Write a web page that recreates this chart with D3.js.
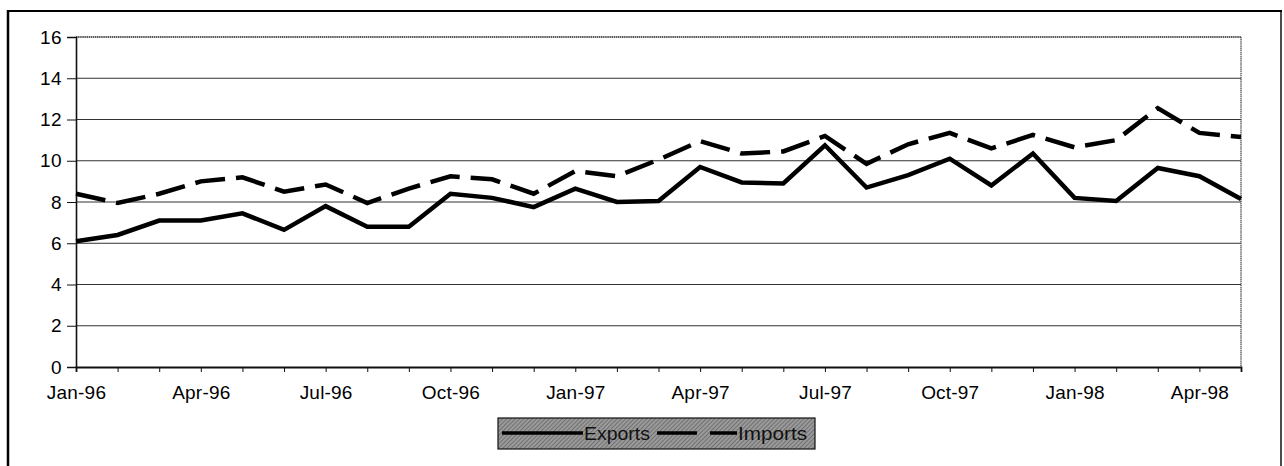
<!DOCTYPE html>
<html>
<head>
<meta charset="utf-8">
<script src="https://cdn.jsdelivr.net/npm/d3@7/dist/d3.min.js"></script>
<style>
  html, body { margin: 0; padding: 0; background: #fff; }
  svg { display: block; }
  text { font-family: "Liberation Sans", Arial, sans-serif; }
</style>
</head>
<body>
<svg id="chart" width="1284" height="466"></svg>
<script>
const months = ["Jan-96","Feb-96","Mar-96","Apr-96","May-96","Jun-96","Jul-96","Aug-96","Sep-96","Oct-96","Nov-96","Dec-96",
                "Jan-97","Feb-97","Mar-97","Apr-97","May-97","Jun-97","Jul-97","Aug-97","Sep-97","Oct-97","Nov-97","Dec-97",
                "Jan-98","Feb-98","Mar-98","Apr-98","May-98"];
const exportsData = [6.1,6.4,7.1,7.1,7.45,6.65,7.8,6.8,6.8,8.4,8.2,7.75,8.65,8.0,8.05,9.7,8.95,8.9,10.75,8.7,9.3,10.1,8.8,10.35,8.2,8.05,9.65,9.25,8.15];
const importsData = [8.4,7.95,8.4,9.0,9.2,8.5,8.85,7.95,8.65,9.25,9.1,8.4,9.5,9.25,10.05,10.95,10.35,10.45,11.2,9.85,10.8,11.35,10.6,11.25,10.65,11.0,12.55,11.35,11.15];
const yTicks = [0,2,4,6,8,10,12,14,16];
const seriesNames = ["Exports","Imports"];

const svg = d3.select("#chart");
const L = 76, R = 1241, T = 37, B = 367;

// outer frame
svg.append("line").attr("x1",8).attr("x2",8).attr("y1",10).attr("y2",466).attr("stroke","#000").attr("stroke-width",2.5);
svg.append("line").attr("x1",7).attr("x2",1282).attr("y1",11).attr("y2",11).attr("stroke","#000").attr("stroke-width",2.2);
svg.append("line").attr("x1",1281).attr("x2",1281).attr("y1",10).attr("y2",466).attr("stroke","#000").attr("stroke-width",1.4);

const x = d3.scalePoint().domain(months).range([L, R]).padding(0);
const y = d3.scaleLinear().domain([0,16]).range([B, T]);

// gridlines
svg.append("g").selectAll("line").data(yTicks.filter(d => d > 0 && d < 16)).join("line")
  .attr("x1", L).attr("x2", R).attr("y1", d => y(d)).attr("y2", d => y(d))
  .attr("stroke", "#333").attr("stroke-width", 1);

// plot border top & right (dotted look)
svg.append("line").attr("x1",L).attr("x2",R).attr("y1",T).attr("y2",T).attr("stroke","#222").attr("stroke-width",1.6).attr("stroke-dasharray","1.5,0.6");
svg.append("line").attr("x1",R).attr("x2",R).attr("y1",T).attr("y2",B).attr("stroke","#444").attr("stroke-width",1.2).attr("stroke-dasharray","1.5,0.6");

// y axis
const yAxis = d3.axisLeft(y).tickValues(yTicks).tickSize(9).tickPadding(5);
const gy = svg.append("g").attr("transform", `translate(${L},0)`).call(yAxis);
gy.select(".domain").attr("stroke","#111").attr("stroke-width",1.6);
gy.selectAll(".tick line").attr("stroke","#111").attr("stroke-width",1);
gy.selectAll("text").attr("font-size", 19).attr("fill","#000").attr("letter-spacing", 0.4);

// x axis
const xAxis = d3.axisBottom(x).tickSize(5).tickPadding(14)
  .tickFormat((d,i) => i % 3 === 0 ? d : "");
const gx = svg.append("g").attr("transform", `translate(0,${B})`).call(xAxis);
gx.select(".domain").attr("stroke","#111").attr("stroke-width",1.8);
gx.selectAll(".tick line").attr("stroke","#111").attr("stroke-width",1);
gx.selectAll("text").attr("font-size", 19).attr("fill","#000").attr("letter-spacing", 0.2);

// lines
const line = d3.line().x((d,i) => x(months[i])).y(d => y(d));
svg.append("path").datum(importsData).attr("d", line)
  .attr("fill","none").attr("stroke","#000").attr("stroke-width",4.5)
  .attr("stroke-dasharray","30,11");
svg.append("path").datum(exportsData).attr("d", line)
  .attr("fill","none").attr("stroke","#000").attr("stroke-width",4.5)
  .attr("stroke-linejoin","miter");

// legend
const defs = svg.append("defs");
const pat = defs.append("pattern").attr("id","hatch").attr("patternUnits","userSpaceOnUse")
  .attr("width",3).attr("height",3).attr("patternTransform","rotate(45)");
pat.append("rect").attr("width",3).attr("height",3).attr("fill","#9a9a9a");
pat.append("line").attr("x1",0).attr("y1",0).attr("x2",0).attr("y2",3).attr("stroke","#555").attr("stroke-width",1.2);

const lg = svg.append("g");
lg.append("rect").attr("x",498).attr("y",418).attr("width",317).attr("height",31)
  .attr("fill","url(#hatch)").attr("stroke","#111").attr("stroke-width",1.2);
const ly = 433;
lg.append("line").attr("x1",502).attr("x2",583).attr("y1",ly).attr("y2",ly).attr("stroke","#000").attr("stroke-width",3.5);
lg.append("text").attr("x",584).attr("y",ly+7).attr("font-size",19).attr("fill","#111")
  .attr("textLength",66).attr("lengthAdjust","spacingAndGlyphs").text(seriesNames[0]);
lg.append("line").attr("x1",657).attr("x2",737).attr("y1",ly).attr("y2",ly).attr("stroke","#000").attr("stroke-width",3.5)
  .attr("stroke-dasharray","40,13");
lg.append("text").attr("x",738).attr("y",ly+7).attr("font-size",19).attr("fill","#111")
  .attr("textLength",69).attr("lengthAdjust","spacingAndGlyphs").text(seriesNames[1]);
</script>
</body>
</html>
